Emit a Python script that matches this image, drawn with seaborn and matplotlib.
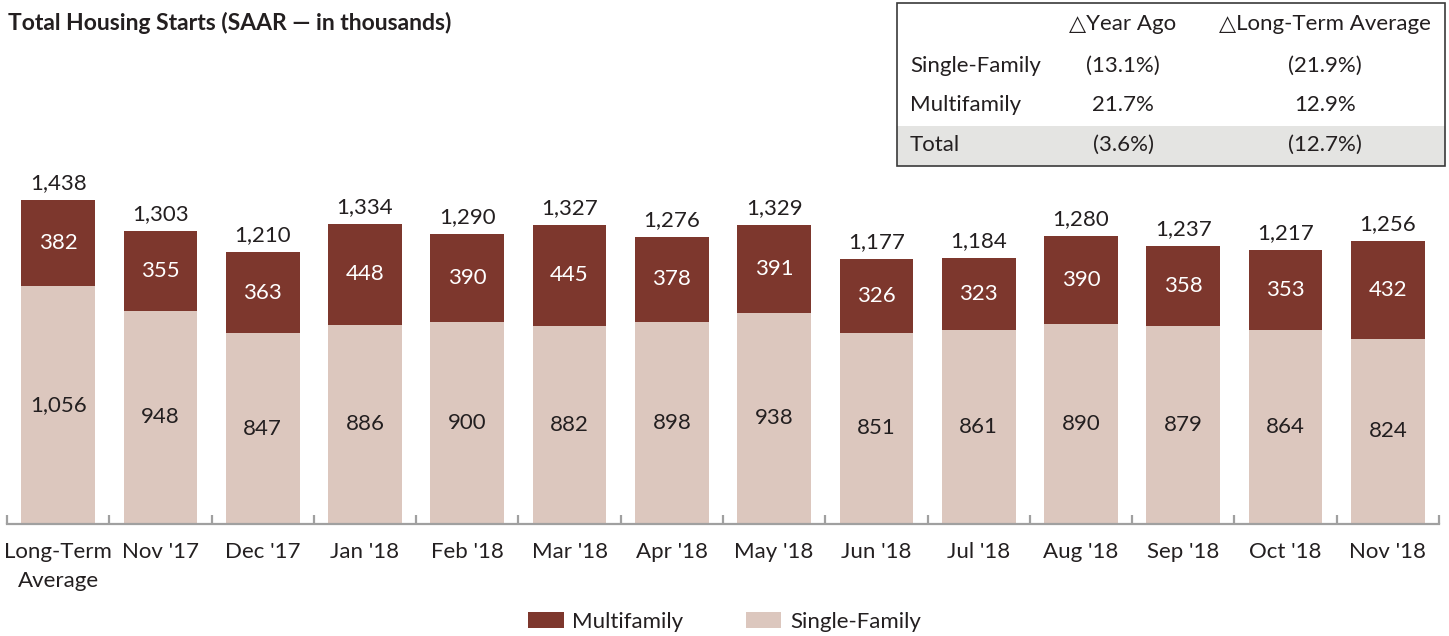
import matplotlib
matplotlib.use("Agg")
import matplotlib.pyplot as plt
import seaborn as sns
import pandas as pd
import numpy as np
from matplotlib.patches import Rectangle, Patch

categories = ["Long-Term\nAverage", "Nov '17", "Dec '17", "Jan '18", "Feb '18", "Mar '18",
              "Apr '18", "May '18", "Jun '18", "Jul '18", "Aug '18", "Sep '18", "Oct '18", "Nov '18"]
single_family = [1056, 948, 847, 886, 900, 882, 898, 938, 851, 861, 890, 879, 864, 824]
multifamily = [382, 355, 363, 448, 390, 445, 378, 391, 326, 323, 390, 358, 353, 432]
totals = [1438, 1303, 1210, 1334, 1290, 1327, 1276, 1329, 1177, 1184, 1280, 1237, 1217, 1256]

table_cols = ["\u25b3Year Ago", "\u25b3Long-Term Average"]
table_rows = ["Single-Family", "Multifamily", "Total"]
year_ago = ["(13.1%)", "21.7%", "(3.6%)"]
lt_avg = ["(21.9%)", "12.9%", "(12.7%)"]

title = "Total Housing Starts (SAAR \u2014 in thousands)"

MF_COLOR = "#7d372d"
SF_COLOR = "#dcc7be"
TXT = "#231f20"
AX_GRAY = "#a0a0a0"

sns.set_theme(style="white")
FAM = ["Lato", "DejaVu Sans"]
plt.rcParams["font.family"] = FAM

W, H = 1449, 636
fig = plt.figure(figsize=(W / 100, H / 100), dpi=100)
ax_bottom = 524
ax_top = 160
ax = fig.add_axes([7 / W, 1 - ax_bottom / H, 1432 / W, (ax_bottom - ax_top) / H])

df = pd.DataFrame({"cat": categories, "sf": single_family, "mf": multifamily, "total": totals})

sns.barplot(data=df, x="cat", y="total", color=MF_COLOR, saturation=1, width=0.72, ax=ax, linewidth=0)
sns.barplot(data=df, x="cat", y="sf", color=SF_COLOR, saturation=1, width=0.72, ax=ax, linewidth=0)

k_px = 0.225
ymax = (ax_bottom - ax_top) / k_px
ax.set_ylim(0, ymax)
ax.set_xlim(-0.5, len(categories) - 0.5)

fs = 16
for i, (s, m, t) in enumerate(zip(single_family, multifamily, totals)):
    ax.text(i, s / 2, f"{s:,}", ha="center", va="center", fontsize=fs, color=TXT)
    ax.text(i, s + m / 2, f"{m:,}", ha="center", va="center", fontsize=fs, color="white")
    ax.annotate(f"{t:,}", (i, s + m), xytext=(0, 5), textcoords="offset points",
                ha="center", va="bottom", fontsize=fs, color=TXT)

ax.set_xlabel("")
ax.set_ylabel("")
ax.set_yticks([])
for sp in ["top", "right", "left"]:
    ax.spines[sp].set_visible(False)
ax.spines["bottom"].set_color(AX_GRAY)
ax.spines["bottom"].set_linewidth(1.6)
ax.set_xticks(np.arange(len(categories)))
ax.set_xticklabels(categories, fontsize=fs, color=TXT, linespacing=1.55)
ax.set_xticks(np.arange(-0.5, len(categories)), minor=True)
ax.tick_params(axis="x", which="major", length=0, pad=13)
ax.tick_params(axis="x", which="minor", direction="in", length=6.5, width=1.6, color=AX_GRAY, bottom=True)

# Title
fig.text(8 / W, 1 - 23 / H, title, ha="left", va="center", fontsize=16.5, fontweight="bold", color=TXT)

# Summary table
tx0, tx1, ty0, ty1 = 897, 1445, 3, 166
fig.patches.append(Rectangle((tx0 / W, 1 - ty1 / H), (tx1 - tx0) / W, (ty1 - 126) / H,
                             transform=fig.transFigure, facecolor="#e4e4e2", edgecolor="none", zorder=1))
fig.patches.append(Rectangle((tx0 / W, 1 - ty1 / H), (tx1 - tx0) / W, (ty1 - ty0) / H,
                             transform=fig.transFigure, facecolor="none", edgecolor="#3a3a3a", linewidth=1.2, zorder=2))
row_y = [66, 105, 145]
col_x = [1123, 1325]
header_y = 24
for cx, lab in zip(col_x, table_cols):
    fig.text(cx / W, 1 - header_y / H, lab, ha="center", va="center", fontsize=fs, color=TXT, family=FAM)
for ry, rl, a, b in zip(row_y, table_rows, year_ago, lt_avg):
    fig.text(910 / W, 1 - ry / H, rl, ha="left", va="center", fontsize=fs, color=TXT)
    fig.text(col_x[0] / W, 1 - ry / H, a, ha="center", va="center", fontsize=fs, color=TXT)
    fig.text(col_x[1] / W, 1 - ry / H, b, ha="center", va="center", fontsize=fs, color=TXT)

# Legend
handles = [Patch(facecolor=MF_COLOR, edgecolor="none", label="Multifamily"),
           Patch(facecolor=SF_COLOR, edgecolor="none", label="Single-Family")]
fig.legend(handles=handles, loc="center", bbox_to_anchor=(0.5, 1 - 622 / H), ncol=2, frameon=False,
           fontsize=fs, handlelength=1.6, handleheight=0.7, handletextpad=0.4, columnspacing=2.8,
           labelcolor=TXT)

fig.savefig("out.png", dpi=100)
